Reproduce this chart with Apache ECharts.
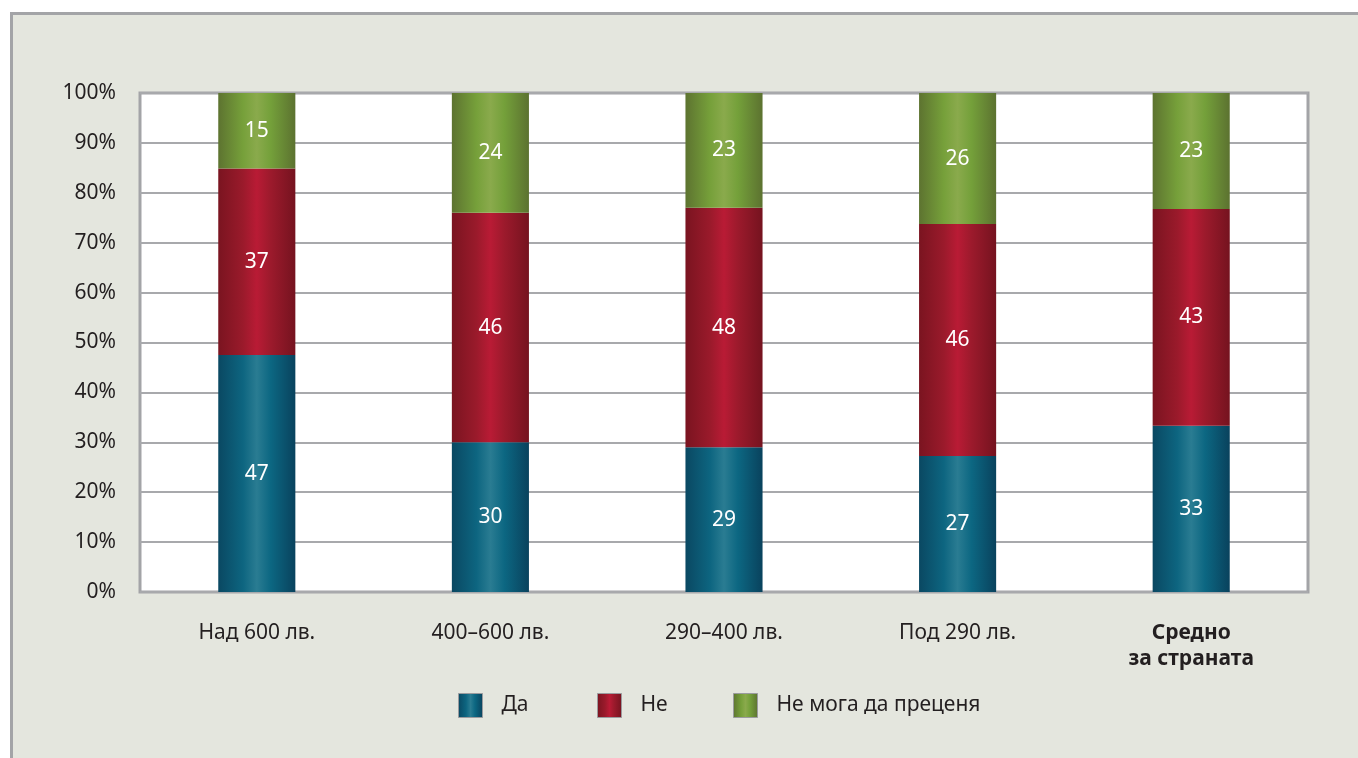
<!DOCTYPE html>
<html>
<head>
<meta charset="utf-8">
<script src="https://cdn.jsdelivr.net/npm/echarts@6/dist/echarts.min.js"></script>
<style>
html,body{margin:0;padding:0;background:#fff;width:1358px;height:758px;overflow:hidden;}
#frame{position:absolute;left:10px;top:12px;width:1400px;height:800px;background:#e4e6de;border:3px solid #a3a4a7;box-sizing:border-box;}
#chart{position:absolute;left:0;top:0;width:1358px;height:758px;}
</style>
</head>
<body>
<div id="frame"></div>
<div id="chart"></div>
<script>
const categories = ['Над 600 лв.', '400–600 лв.', '290–400 лв.', 'Под 290 лв.', 'Средно\nза страната'];
const seriesNames = ['Да', 'Не', 'Не мога да преценя'];
const daValues = [47, 30, 29, 27, 33];
const neValues = [37, 46, 48, 46, 43];
const nmValues = [15, 24, 23, 26, 23];
const yTicks = ['0%','10%','20%','30%','40%','50%','60%','70%','80%','90%','100%'];

const raw = [daValues, neValues, nmValues];
const totals = categories.map((c, i) => raw.reduce((s, arr) => s + arr[i], 0));

function grad(edgeL, mid1, hi, mid2, edgeR) {
  return new echarts.graphic.LinearGradient(0, 0, 1, 0, [
    {offset: 0, color: edgeL},
    {offset: 0.32, color: mid1},
    {offset: 0.5, color: hi},
    {offset: 0.68, color: mid2},
    {offset: 1, color: edgeR}
  ]);
}
const colors = [
  grad('#0a4862', '#0d6580', '#2a7c92', '#0c6782', '#09425d'),
  grad('#7a1420', '#9a1a2b', '#b91b35', '#9c1a2c', '#75131f'),
  grad('#5d7330', '#76a03a', '#8aaa4c', '#74a03a', '#5c7230')
];

const font = '"Noto Sans", "Open Sans", sans-serif';
const fs = 21;

const series = seriesNames.map((name, si) => ({
  name: name,
  type: 'bar',
  stack: 'total',
  barWidth: '33%',
  itemStyle: {color: colors[si], borderWidth: 0},
  label: {
    show: true,
    position: 'inside',
    color: '#ffffff',
    fontSize: fs,
    fontFamily: font,
    formatter: p => String(raw[si][p.dataIndex])
  },
  data: raw[si].map((v, i) => v / totals[i] * 100)
}));

const legendLefts = [458, 597, 733];
const legends = seriesNames.map((n, i) => ({
  left: legendLefts[i],
  top: 693,
  padding: 0,
  itemWidth: 24,
  itemHeight: 24,
  icon: 'rect',
  itemStyle: {borderColor: '#9a9b9e', borderWidth: 1},
  textStyle: {fontSize: fs, color: '#231f20', fontFamily: font, padding: [0, 0, 0, 14]},
  data: [n]
}));

const chart = echarts.init(document.getElementById('chart'), null, {renderer: 'canvas'});
chart.setOption({
  backgroundColor: 'transparent',
  animation: false,
  textStyle: {fontFamily: font},
  grid: {left: 140, top: 93, right: 50, bottom: 166, show: true, borderColor: '#a3a4a7', borderWidth: 3, backgroundColor: '#ffffff', containLabel: false},
  legend: legends,
  xAxis: {
    type: 'category',
    data: categories,
    axisLine: {show: false},
    axisTick: {show: false},
    axisLabel: {
      margin: 28,
      fontSize: fs,
      color: '#231f20',
      fontFamily: font,
      lineHeight: 26,
      formatter: (v, i) => i === categories.length - 1 ? '{b|' + v + '}' : v,
      rich: {b: {fontWeight: 'bold', fontSize: fs, color: '#231f20', fontFamily: font, lineHeight: 26}}
    }
  },
  yAxis: {
    type: 'value',
    min: 0,
    max: 100,
    interval: 10,
    axisLine: {show: false},
    axisTick: {show: false},
    splitLine: {lineStyle: {color: '#a8a9ac', width: 2}},
    axisLabel: {
      margin: 24,
      fontSize: fs,
      color: '#231f20',
      fontFamily: font,
      formatter: v => yTicks[Math.round(v / 10)]
    }
  },
  series: series
});
</script>
</body>
</html>
